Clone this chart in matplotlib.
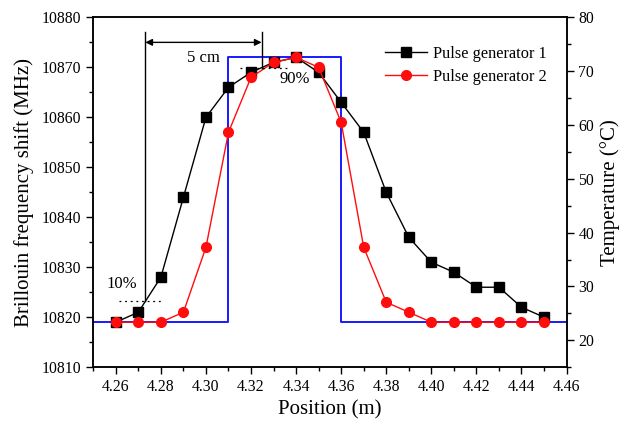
import matplotlib
matplotlib.use('Agg')
import matplotlib.pyplot as plt
from matplotlib.ticker import MultipleLocator, FormatStrFormatter

plt.rcParams['font.family'] = ['Liberation Serif', 'DejaVu Serif']

# position along fibre (m)
position = [4.26, 4.27, 4.28, 4.29, 4.30, 4.31, 4.32, 4.33, 4.34, 4.35,
            4.36, 4.37, 4.38, 4.39, 4.40, 4.41, 4.42, 4.43, 4.44, 4.45]
# Brillouin frequency shift (MHz)
gen1 = [10819, 10821, 10828, 10844, 10860, 10866, 10869, 10871, 10872, 10869,
        10863, 10857, 10845, 10836, 10831, 10829, 10826, 10826, 10822, 10820]
gen2 = [10819, 10819, 10819, 10821, 10834, 10857, 10868, 10871, 10872, 10870,
        10859, 10834, 10823, 10821, 10819, 10819, 10819, 10819, 10819, 10819]

# heated section temperature profile (°C)
temp_pos = [4.25, 4.31, 4.31, 4.36, 4.36, 4.46]
temp_val = [23.4, 23.4, 72.6, 72.6, 23.4, 23.4]

fig = plt.figure(figsize=(6.26, 4.24), dpi=100)
ax = fig.add_axes([0.149, 0.134, 0.756, 0.825])
ax2 = ax.twinx()
ax.set_zorder(ax2.get_zorder() + 1)
ax.patch.set_visible(False)

ax2.plot(temp_pos, temp_val, color='#1a1aff', lw=1.4)
ax.plot(position, gen1, color='black', lw=1, marker='s', ms=6.5,
        label='Pulse generator 1')
ax.plot(position, gen2, color='#ff0d0d', lw=1, marker='o', ms=7,
        label='Pulse generator 2')

ax.set_xlim(4.25, 4.46)
ax.set_ylim(10810, 10880)
ax2.set_ylim(15, 80)

ax.xaxis.set_major_locator(MultipleLocator(0.02))
ax.xaxis.set_minor_locator(MultipleLocator(0.01))
ax.xaxis.set_major_formatter(FormatStrFormatter('%.2f'))
ax.yaxis.set_major_locator(MultipleLocator(10))
ax.yaxis.set_minor_locator(MultipleLocator(5))
ax2.yaxis.set_major_locator(MultipleLocator(10))
ax2.yaxis.set_minor_locator(MultipleLocator(5))
ax2.set_yticks([20, 30, 40, 50, 60, 70, 80])

for a in (ax, ax2):
    a.tick_params(which='major', direction='out', length=5, width=1, labelsize=11.3)
    a.tick_params(which='minor', direction='out', length=3, width=1)
    for s in a.spines.values():
        s.set_linewidth(1.1)
ax.tick_params(axis='y', right=False, which='both')

ax.set_xlabel('Position (m)', fontsize=15)
ax.set_ylabel('Brillouin frequency shift (MHz)', fontsize=15, labelpad=6)
ax2.set_ylabel('Temperature (°C)', fontsize=15)

# rise-length annotation
x10, x90 = 4.2731, 4.3247
ax.plot([x10, x10], [10823.3, 10877], color='black', lw=1)
ax.plot([x90, x90], [10869.9, 10877], color='black', lw=1)
ax.annotate('', xy=(x10, 10875), xytext=(x90, 10875),
            arrowprops=dict(arrowstyle='<|-|>', color='black', lw=1,
                            mutation_scale=10, shrinkA=0, shrinkB=0))
ax.text((x10 + x90) / 2, 10873.5, '5 cm', ha='center', va='top', fontsize=12)
ax.plot([4.2615, 4.2813], [10823.3, 10823.3], color='black', lw=0.9, ls=(0, (1.5, 3)))
ax.text(4.2628, 10826.7, '10%', ha='center', va='center', fontsize=12)
ax.plot([4.315, 4.336], [10869.9, 10869.9], color='black', lw=0.9, ls=(0, (1.5, 3)))
ax.text(4.3394, 10867.7, '90%', ha='center', va='center', fontsize=12)

ax.legend(loc='upper right', bbox_to_anchor=(0.958, 0.918), frameon=False,
          fontsize=11.8, handlelength=2.6, borderpad=0, borderaxespad=0,
          labelspacing=0.4, handletextpad=0.35)

fig.savefig('out.png', dpi=100)
